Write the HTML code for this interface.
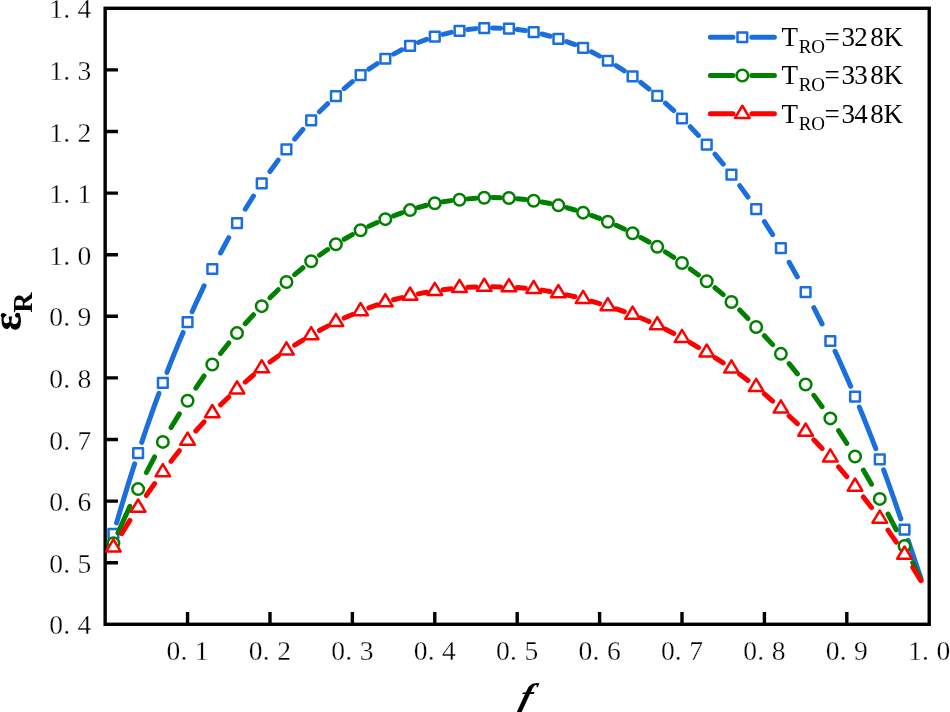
<!DOCTYPE html>
<html><head><meta charset="utf-8"><style>html,body{margin:0;padding:0;background:#fff;overflow:hidden}svg{display:block;will-change:transform}text{font-family:"Liberation Serif",serif}</style></head>
<body><svg width="950" height="712" viewBox="0 0 950 712"><rect x="105.16" y="8.3" width="824.06" height="616" fill="none" stroke="#000" stroke-width="3.4"/><path d="M187.57 624.3V612M269.97 624.3V612M352.38 624.3V612M434.78 624.3V612M517.19 624.3V612M599.6 624.3V612M682 624.3V612M764.41 624.3V612M846.81 624.3V612M105.16 562.7H117.96M105.16 501.1H117.96M105.16 439.5H117.96M105.16 377.9H117.96M105.16 316.3H117.96M105.16 254.7H117.96M105.16 193.1H117.96M105.16 131.5H117.96M105.16 69.9H117.96" stroke="#000" stroke-width="3.4" fill="none"/><g font-size="27.6" text-anchor="middle" fill="#000" stroke="#fff" stroke-width="0.3"><text x="173.37" y="659.7">0</text><text x="183.87" y="659.7">.</text><text x="201.77" y="659.7">1</text><text x="255.77" y="659.7">0</text><text x="266.27" y="659.7">.</text><text x="284.17" y="659.7">2</text><text x="338.18" y="659.7">0</text><text x="348.68" y="659.7">.</text><text x="366.58" y="659.7">3</text><text x="420.58" y="659.7">0</text><text x="431.08" y="659.7">.</text><text x="448.98" y="659.7">4</text><text x="502.99" y="659.7">0</text><text x="513.49" y="659.7">.</text><text x="531.39" y="659.7">5</text><text x="585.4" y="659.7">0</text><text x="595.9" y="659.7">.</text><text x="613.8" y="659.7">6</text><text x="667.8" y="659.7">0</text><text x="678.3" y="659.7">.</text><text x="696.2" y="659.7">7</text><text x="750.21" y="659.7">0</text><text x="760.71" y="659.7">.</text><text x="778.61" y="659.7">8</text><text x="832.61" y="659.7">0</text><text x="843.11" y="659.7">.</text><text x="861.01" y="659.7">9</text><text x="915.02" y="659.7">1</text><text x="925.52" y="659.7">.</text><text x="943.42" y="659.7">0</text><text x="56.1" y="634.4">0</text><text x="66.6" y="634.4">.</text><text x="84.5" y="634.4">4</text><text x="56.1" y="572.8">0</text><text x="66.6" y="572.8">.</text><text x="84.5" y="572.8">5</text><text x="56.1" y="511.2">0</text><text x="66.6" y="511.2">.</text><text x="84.5" y="511.2">6</text><text x="56.1" y="449.6">0</text><text x="66.6" y="449.6">.</text><text x="84.5" y="449.6">7</text><text x="56.1" y="388">0</text><text x="66.6" y="388">.</text><text x="84.5" y="388">8</text><text x="56.1" y="326.4">0</text><text x="66.6" y="326.4">.</text><text x="84.5" y="326.4">9</text><text x="56.1" y="264.8">1</text><text x="66.6" y="264.8">.</text><text x="84.5" y="264.8">0</text><text x="56.1" y="203.2">1</text><text x="66.6" y="203.2">.</text><text x="84.5" y="203.2">1</text><text x="56.1" y="141.6">1</text><text x="66.6" y="141.6">.</text><text x="84.5" y="141.6">2</text><text x="56.1" y="80">1</text><text x="66.6" y="80">.</text><text x="84.5" y="80">3</text><text x="56.1" y="18.4">1</text><text x="66.6" y="18.4">.</text><text x="84.5" y="18.4">4</text></g><path d="M116.58 522.91L121.64 505.67L129.88 478.8L134.67 463.86M141.72 442.39L146.36 428.56L154.6 405.15L158.93 393.45M166.93 372.32L171.08 361.62L179.33 341.38L183.13 332.44M192.16 311.73L195.81 303.55L204.05 285.87M220.53 252.94L228.77 237.66M245.25 209.23L253.49 196.02M269.97 171.5L278.21 160.14M294.69 139.1L302.93 129.41M319.42 111.77L327.66 103.73M344.14 88.65L352.38 81.63M368.86 69.16L377.1 63.74M393.58 54.11L401.82 49.84M418.3 42.47L426.54 39.39M443.02 34.38L451.27 32.41M467.75 29.53L475.99 28.62M492.47 27.97L500.71 28.19M517.19 29.48L525.43 30.57M541.91 33.97L550.15 36.26M566.63 41.53L574.87 44.54M591.36 51.84L599.6 56.14M616.08 65.6L624.32 70.76M640.8 82.44L649.04 88.99M665.52 103.11L673.76 110.63M690.24 126.76L698.48 135.44M714.96 154.12L723.21 164.15M739.69 185.62L747.93 197.08M764.41 221.55L772.65 234.58M789.13 262.26L797.37 276.9M813.85 307.72L822.09 324M835.08 351.25L838.57 358.8L846.81 377.38L850.62 386.31M859.35 407.15L863.3 416.73L871.54 437.56L875.77 448.73M883.63 469.92L888.02 482.01L896.26 505.52L900.84 518.91M908.11 540.31L912.74 554.04L920.98 578.6" stroke="#1a6ede" stroke-width="5.0" stroke-linecap="round" stroke-linejoin="round" fill="none"/><g fill="#fff" stroke="#1a6ede" stroke-width="2.5" stroke-linejoin="round"><rect x="108.55" y="528.9" width="9.7" height="9.7"/><rect x="133.27" y="448.25" width="9.7" height="9.7"/><rect x="157.99" y="378" width="9.7" height="9.7"/><rect x="182.72" y="317.2" width="9.7" height="9.7"/><rect x="207.44" y="264.15" width="9.7" height="9.7"/><rect x="232.16" y="218.25" width="9.7" height="9.7"/><rect x="256.88" y="178.6" width="9.7" height="9.7"/><rect x="281.6" y="144.5" width="9.7" height="9.7"/><rect x="306.32" y="115.45" width="9.7" height="9.7"/><rect x="331.05" y="91.2" width="9.7" height="9.7"/><rect x="355.77" y="70.25" width="9.7" height="9.7"/><rect x="380.49" y="53.9" width="9.7" height="9.7"/><rect x="405.21" y="41.1" width="9.7" height="9.7"/><rect x="429.93" y="31.85" width="9.7" height="9.7"/><rect x="454.66" y="25.95" width="9.7" height="9.7"/><rect x="479.38" y="23.25" width="9.7" height="9.7"/><rect x="504.1" y="23.85" width="9.7" height="9.7"/><rect x="528.82" y="27.2" width="9.7" height="9.7"/><rect x="553.54" y="33.95" width="9.7" height="9.7"/><rect x="578.26" y="43.1" width="9.7" height="9.7"/><rect x="602.99" y="55.9" width="9.7" height="9.7"/><rect x="627.71" y="71.5" width="9.7" height="9.7"/><rect x="652.43" y="91.05" width="9.7" height="9.7"/><rect x="677.15" y="113.65" width="9.7" height="9.7"/><rect x="701.87" y="139.7" width="9.7" height="9.7"/><rect x="726.6" y="169.8" width="9.7" height="9.7"/><rect x="751.32" y="204.2" width="9.7" height="9.7"/><rect x="776.04" y="243.3" width="9.7" height="9.7"/><rect x="800.76" y="287.2" width="9.7" height="9.7"/><rect x="825.48" y="336.15" width="9.7" height="9.7"/><rect x="850.2" y="391.85" width="9.7" height="9.7"/><rect x="874.93" y="454.45" width="9.7" height="9.7"/><rect x="899.65" y="524.75" width="9.7" height="9.7"/></g><path d="M117.92 532.94L121.64 524.4L129.88 506.34M146.36 472.63L154.6 456.91M171.08 427.56L179.33 413.85M195.81 388.08L204.05 376M220.53 353.45L228.77 343.01M245.25 323.71L253.49 314.76M269.97 297.79L278.21 289.73M294.69 274.66L302.93 267.74M319.42 255.2L327.66 249.55M344.14 239.26L352.38 234.58M368.86 226.26L377.1 222.58M393.58 215.93L401.82 212.91M418.3 207.51L426.54 205.22M443.02 201.8L451.27 200.64M467.75 198.88L475.99 198.21M492.47 197.55L500.71 197.63M517.19 198.66L525.43 199.58M541.91 202L550.15 203.52M566.63 207.52L574.87 209.99M591.36 215.46L599.6 218.45M616.08 225.26L624.32 229.11M640.8 237.5L649.04 242.03M665.52 251.98L673.76 257.39M690.24 268.91L698.48 274.98M714.96 287.75L723.21 294.62M739.69 309.99L747.93 318.41M764.41 335.74L772.65 344.61M789.13 363.61L797.37 373.84M813.85 395.39L822.09 406.68M838.57 430.6L846.81 443.28M863.3 470.1L871.54 484.25M888.02 514.08L896.26 529.78M912.74 562.74L920.98 580" stroke="#008000" stroke-width="5.0" stroke-linecap="round" stroke-linejoin="round" fill="none"/><g fill="#fff" stroke="#008000" stroke-width="2.5" stroke-linejoin="round"><circle cx="113.4" cy="543.3" r="5.75"/><circle cx="138.12" cy="489.1" r="5.75"/><circle cx="162.84" cy="441.9" r="5.75"/><circle cx="187.57" cy="400.7" r="5.75"/><circle cx="212.29" cy="364.45" r="5.75"/><circle cx="237.01" cy="333.1" r="5.75"/><circle cx="261.73" cy="306.15" r="5.75"/><circle cx="286.45" cy="282" r="5.75"/><circle cx="311.18" cy="261.25" r="5.75"/><circle cx="335.9" cy="244.25" r="5.75"/><circle cx="360.62" cy="230.25" r="5.75"/><circle cx="385.34" cy="219.15" r="5.75"/><circle cx="410.06" cy="210.1" r="5.75"/><circle cx="434.78" cy="203.3" r="5.75"/><circle cx="459.51" cy="199.7" r="5.75"/><circle cx="484.23" cy="197.75" r="5.75"/><circle cx="508.95" cy="198" r="5.75"/><circle cx="533.67" cy="200.7" r="5.75"/><circle cx="558.39" cy="205.35" r="5.75"/><circle cx="583.11" cy="212.65" r="5.75"/><circle cx="607.84" cy="221.7" r="5.75"/><circle cx="632.56" cy="233.2" r="5.75"/><circle cx="657.28" cy="246.85" r="5.75"/><circle cx="682" cy="263.05" r="5.75"/><circle cx="706.72" cy="281.25" r="5.75"/><circle cx="731.45" cy="302" r="5.75"/><circle cx="756.17" cy="327.05" r="5.75"/><circle cx="780.89" cy="353.85" r="5.75"/><circle cx="805.61" cy="384.45" r="5.75"/><circle cx="830.33" cy="418.4" r="5.75"/><circle cx="855.05" cy="456.45" r="5.75"/><circle cx="879.78" cy="498.9" r="5.75"/><circle cx="904.5" cy="546" r="5.75"/></g><path d="M121.64 533.63L129.88 520.34M146.36 495.37L154.6 483.6M171.08 461.3L179.33 450.76M195.81 431L204.05 421.82M220.53 404.84L228.77 396.97M245.25 382.07L253.49 375.01M269.97 361.97L278.21 356.02M294.69 345.09L302.93 340.04M319.42 330.53L327.66 326.08M344.14 318.04L352.38 314.46M368.86 307.91L377.1 304.93M393.58 299.75L401.82 297.56M418.3 293.84L426.54 292.28M443.02 289.7L451.27 288.69M467.75 287.34L475.99 286.98M492.47 286.77L500.71 286.89M517.19 287.56L525.43 288.16M541.91 290.13L550.15 291.51M566.63 294.87L574.87 296.8M591.36 301.17L599.6 303.59M616.08 308.83L624.32 311.67M640.8 317.95L649.04 321.44M665.52 329.23L673.76 333.5M690.24 342.69L698.48 347.55M714.96 357.67L723.21 362.97M739.69 374.32L747.93 380.48M764.41 393.9L772.65 401.11M789.13 416.01L797.37 423.68M813.85 439.83L822.09 448.42M838.57 466.79L846.81 476.54M863.3 496.93L871.54 507.59M888.02 530.18L896.26 542.17M912.74 567.45L920.98 580.7" stroke="#ff0000" stroke-width="5.0" stroke-linecap="round" stroke-linejoin="round" fill="none"/><g fill="#fff" stroke="#ff0000" stroke-width="2.5" stroke-linejoin="round"><path d="M113.4 539.4L120.7 551.55L106.1 551.55Z"/><path d="M138.12 499.5L145.42 511.65L130.82 511.65Z"/><path d="M162.84 464.15L170.14 476.3L155.54 476.3Z"/><path d="M187.57 432.55L194.87 444.7L180.27 444.7Z"/><path d="M212.29 405L219.59 417.15L204.99 417.15Z"/><path d="M237.01 381.3L244.31 393.45L229.71 393.45Z"/><path d="M261.73 360.2L269.03 372.35L254.43 372.35Z"/><path d="M286.45 342.3L293.75 354.45L279.15 354.45Z"/><path d="M311.18 327.1L318.48 339.25L303.88 339.25Z"/><path d="M335.9 313.8L343.2 325.95L328.6 325.95Z"/><path d="M360.62 303L367.92 315.15L353.32 315.15Z"/><path d="M385.34 294.1L392.64 306.25L378.04 306.25Z"/><path d="M410.06 287.5L417.36 299.65L402.76 299.65Z"/><path d="M434.78 282.8L442.08 294.95L427.48 294.95Z"/><path d="M459.51 279.8L466.81 291.95L452.21 291.95Z"/><path d="M484.23 278.7L491.53 290.85L476.93 290.85Z"/><path d="M508.95 279.05L516.25 291.2L501.65 291.2Z"/><path d="M533.67 280.9L540.97 293.05L526.37 293.05Z"/><path d="M558.39 285L565.69 297.15L551.09 297.15Z"/><path d="M583.11 290.8L590.41 302.95L575.81 302.95Z"/><path d="M607.84 298.05L615.14 310.2L600.54 310.2Z"/><path d="M632.56 306.6L639.86 318.75L625.26 318.75Z"/><path d="M657.28 317.1L664.58 329.25L649.98 329.25Z"/><path d="M682 329.9L689.3 342.05L674.7 342.05Z"/><path d="M706.72 344.45L714.02 356.6L699.42 356.6Z"/><path d="M731.45 360.4L738.75 372.55L724.15 372.55Z"/><path d="M756.17 378.9L763.47 391.05L748.87 391.05Z"/><path d="M780.89 400.4L788.19 412.55L773.59 412.55Z"/><path d="M805.61 423.5L812.91 435.65L798.31 435.65Z"/><path d="M830.33 449.3L837.63 461.45L823.03 461.45Z"/><path d="M855.05 478.5L862.35 490.65L847.75 490.65Z"/><path d="M879.78 510.55L887.08 522.7L872.48 522.7Z"/><path d="M904.5 546.5L911.8 558.65L897.2 558.65Z"/></g><path d="M710.4 37.25H733M751.8 37.25H774.4" stroke="#1a6ede" stroke-width="5.0" stroke-linecap="round"/><g fill="#fff" stroke="#1a6ede" stroke-width="2.5" stroke-linejoin="round"><rect x="737.5" y="32.4" width="9.7" height="9.7"/></g><text x="781.56" y="46" font-size="27">T</text><text x="798.85 811.2" y="53" font-size="19">RO</text><text x="824.56 841.41 854.31 870.17 883.62" y="46" font-size="27">=328K</text><path d="M710.4 75.55H733M751.8 75.55H774.4" stroke="#008000" stroke-width="5.0" stroke-linecap="round"/><g fill="#fff" stroke="#008000" stroke-width="2.5" stroke-linejoin="round"><circle cx="742.35" cy="75.55" r="5.75"/></g><text x="781.56" y="84.3" font-size="27">T</text><text x="798.85 811.2" y="91.3" font-size="19">RO</text><text x="824.56 841.41 854.31 870.17 883.62" y="84.3" font-size="27">=338K</text><path d="M710.4 113.85H733M751.8 113.85H774.4" stroke="#ff0000" stroke-width="5.0" stroke-linecap="round"/><g fill="#fff" stroke="#ff0000" stroke-width="2.5" stroke-linejoin="round"><path d="M742.35 105.75L749.65 117.9L735.05 117.9Z"/></g><text x="781.56" y="122.6" font-size="27">T</text><text x="798.85 811.2" y="129.6" font-size="19">RO</text><text x="824.56 841.41 854.31 870.17 883.62" y="122.6" font-size="27">=348K</text><text transform="translate(20.6 331) rotate(-90)" font-weight="bold"><tspan font-size="43">&#949;</tspan><tspan font-size="28" dy="11.3">R</tspan></text><circle cx="3.2" cy="315.3" r="2.4"/><circle cx="17.6" cy="315.2" r="2.5"/><text transform="translate(523 708.5) skewX(-16)" font-weight="bold" font-style="italic" font-size="37" text-anchor="middle">f</text></svg></body></html>
